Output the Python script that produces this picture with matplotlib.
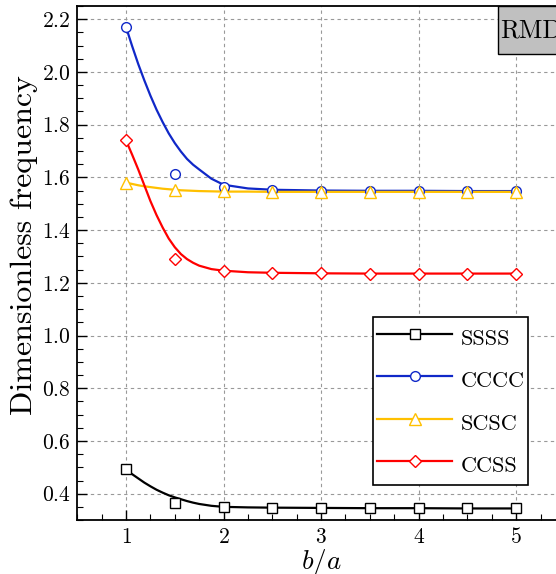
import numpy as np
import matplotlib
matplotlib.use("Agg")
import matplotlib.pyplot as plt
from matplotlib.lines import Line2D
from matplotlib.patches import Rectangle

plt.rcParams['font.family'] = 'serif'
plt.rcParams['font.serif'] = ['cmr10']
plt.rcParams['mathtext.fontset'] = 'cm'
plt.rcParams['axes.formatter.use_mathtext'] = True

# marker data (b/a ratios)
x_pts = [1, 1.5, 2, 2.5, 3, 3.5, 4, 4.5, 5]
ssss = [0.492, 0.363, 0.349, 0.347, 0.346, 0.345, 0.345, 0.344, 0.344]
cccc = [2.170, 1.612, 1.562, 1.552, 1.549, 1.548, 1.548, 1.548, 1.548]
scsc = [1.580, 1.552, 1.547, 1.546, 1.546, 1.546, 1.546, 1.546, 1.546]
ccss = [1.740, 1.289, 1.246, 1.238, 1.236, 1.235, 1.235, 1.235, 1.235]

# continuous curves
x_cur = [1, 1.0625, 1.125, 1.1875, 1.25, 1.3125, 1.375, 1.4375, 1.5, 1.5625, 1.625, 1.6875,
         1.75, 1.875, 2, 2.25, 2.5, 3, 3.5, 4, 4.5, 5]
ssss_c = [0.492, 0.474, 0.458, 0.442, 0.428, 0.415, 0.404, 0.394, 0.386, 0.379, 0.372, 0.366,
          0.361, 0.354, 0.350, 0.348, 0.347, 0.346, 0.345, 0.345, 0.344, 0.344]
cccc_c = [2.170, 2.098, 2.030, 1.968, 1.910, 1.857, 1.810, 1.767, 1.730, 1.698, 1.670, 1.648,
          1.630, 1.595, 1.572, 1.558, 1.553, 1.550, 1.549, 1.549, 1.548, 1.548]
scsc_c = [1.580, 1.575, 1.570, 1.566, 1.563, 1.560, 1.557, 1.555, 1.553, 1.551, 1.550, 1.549,
          1.548, 1.547, 1.546, 1.546, 1.545, 1.545, 1.545, 1.545, 1.545, 1.545]
ccss_c = [1.740, 1.686, 1.630, 1.570, 1.510, 1.457, 1.410, 1.368, 1.335, 1.309, 1.290, 1.276,
          1.265, 1.252, 1.246, 1.240, 1.238, 1.236, 1.235, 1.235, 1.235, 1.235]

names = ['SSSS', 'CCCC', 'SCSC', 'CCSS']
colors = ['black', '#1028c8', '#ffc000', '#ff0000']
markers = ['s', 'o', '^', 'D']
msizes = [6.5, 7, 8, 6]

fig = plt.figure(figsize=(5.56, 5.74), dpi=100)
ax = fig.add_axes([0.139, 0.094, 0.877, 0.8955])

series = [(ssss, ssss_c), (cccc, cccc_c), (scsc, scsc_c), (ccss, ccss_c)]
handles = []
for (pts, cur), name, c, m, ms in zip(series, names, colors, markers, msizes):
    ax.plot(x_cur, cur, color=c, lw=1.6, zorder=3)
    ax.plot(x_pts, pts, ls='none', marker=m, ms=ms, mfc='white', mec=c, mew=1.0, zorder=4)
    handles.append(Line2D([], [], color=c, lw=1.6, marker=m, ms=ms, mfc='white', mec=c, mew=1.0))

ax.set_xlim(0.5, 5.5)
ax.set_ylim(0.3, 2.25)
ax.set_xticks([1, 2, 3, 4, 5])
ax.set_xticks(np.arange(0.5, 5.51, 0.25), minor=True)
ax.set_yticks(np.arange(0.4, 2.21, 0.2))
ax.set_yticks(np.arange(0.3, 2.251, 0.05), minor=True)
ax.tick_params(which='both', direction='in', labelsize=15.5)
ax.tick_params(which='major', length=7, width=1.0)
ax.tick_params(which='minor', length=4, width=0.8)
ax.tick_params(axis='x', pad=5)
ax.tick_params(axis='y', pad=5)
ax.grid(True, which='major', color='#999999', ls=(0, (3, 3)), lw=0.8)
for s in ax.spines.values():
    s.set_linewidth(1.3)

ax.set_xlabel(r'$b/a$', fontsize=19.5, labelpad=0)
ax.set_ylabel('Dimensionless frequency', fontsize=23)
ax.yaxis.set_label_coords(-0.081, 0.535)

# legend box drawn separately so the padding can match
ax.add_patch(Rectangle((0.6067, 0.0681), 0.318, 0.327, transform=ax.transAxes,
                       facecolor='white', edgecolor='black', lw=1.2, zorder=4.6))
leg = ax.legend(handles, names, loc='center', bbox_to_anchor=(0.7657, 0.2315),
                fontsize=16, handlelength=3.4, handleheight=1.55, handletextpad=0.36,
                labelspacing=0.66, borderpad=0, borderaxespad=0, frameon=False)
leg.set_zorder(5)

ax.add_patch(Rectangle((0.863, 0.9066), 0.137, 0.0934, transform=ax.transAxes,
                       facecolor='#c0c0c0', edgecolor='black', lw=1.0, zorder=5))
ax.text(0.868, 0.953, 'RMD', transform=ax.transAxes, fontsize=18.5, ha='left', va='center', zorder=6)

fig.savefig('out.png', dpi=100)
